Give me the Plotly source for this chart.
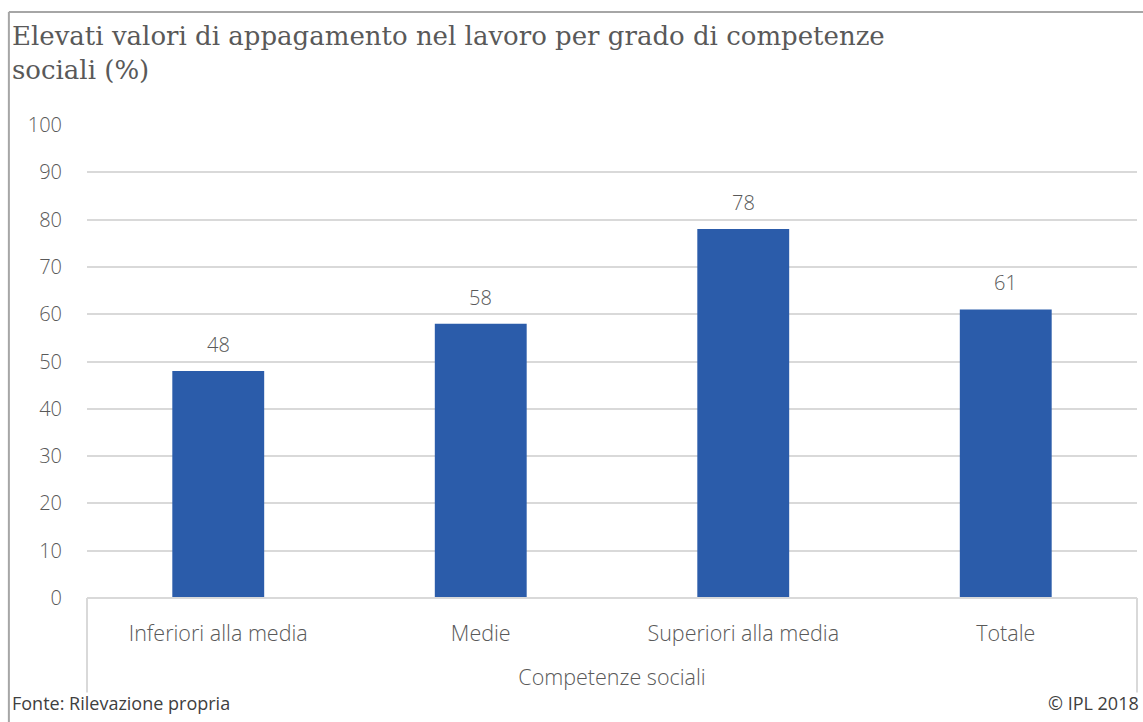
import plotly.graph_objects as go

categories = ["Inferiori alla media", "Medie", "Superiori alla media", "Totale"]
values = [48, 58, 78, 61]
y_ticks = [0, 10, 20, 30, 40, 50, 60, 70, 80, 90, 100]

title_text = "Elevati valori di appagamento nel lavoro per grado di competenze<br>sociali (%)"
x_title = "Competenze sociali"
source_text = "Fonte: Rilevazione propria"
copyright_text = "© IPL 2018"

BAR = "#2b5caa"
TXT = "#595959"
GRID = "#d9d9d9"
FRAME = "#a6a6a6"
SANS = "Open Sans"
LABEL_FONT = dict(family=SANS, size=20, color=TXT, weight=300)
CAT_FONT = dict(family=SANS, size=21.5, color=TXT, weight=300)

fig = go.Figure(
    go.Bar(
        x=categories,
        y=values,
        marker=dict(color=BAR, line=dict(width=0)),
        width=0.35,
        cliponaxis=False,
        hoverinfo="x+y",
    )
)

# value labels above each bar
value_labels = [
    dict(x=c, y=v, text=str(v), xref="x", yref="y", showarrow=False,
         xanchor="center", yanchor="bottom", yshift=11, font=LABEL_FONT)
    for c, v in zip(categories, values)
]

fig.update_layout(
    width=1143,
    height=722,
    margin=dict(l=87, r=6, t=125, b=124),
    paper_bgcolor="white",
    plot_bgcolor="white",
    showlegend=False,
    xaxis=dict(
        range=[-0.5, 3.5],
        showgrid=False,
        showline=False,
        ticks="",
        ticklabelstandoff=20,
        tickfont=CAT_FONT,
        title=dict(text=x_title, font=CAT_FONT, standoff=24),
    ),
    yaxis=dict(
        range=[0, 100],
        tickvals=y_ticks,
        showgrid=True,
        gridcolor=GRID,
        gridwidth=1.5,
        zeroline=False,
        showline=False,
        ticks="",
        ticklabelstandoff=24,
        tickfont=LABEL_FONT,
    ),
    shapes=[
        # outer frame: top and left edges
        dict(type="line", xref="paper", yref="paper", x0=-0.0744, x1=1.01, y0=1.239, y1=1.239,
             line=dict(color=FRAME, width=2)),
        dict(type="line", xref="paper", yref="paper", x0=-0.0744, x1=-0.0744, y0=1.239, y1=-0.27,
             line=dict(color=FRAME, width=2)),
        # category axis box
        dict(type="line", xref="paper", yref="paper", x0=0, x1=1, y0=0, y1=0,
             line=dict(color=GRID, width=2)),
        dict(type="line", xref="paper", yref="paper", x0=0, x1=0, y0=0, y1=-0.2,
             line=dict(color=GRID, width=2)),
        dict(type="line", xref="paper", yref="paper", x0=1, x1=1, y0=0, y1=-0.2,
             line=dict(color=GRID, width=2)),
    ],
    annotations=value_labels + [
        dict(text=title_text, xref="paper", yref="paper", x=-0.073, y=1.225,
             xanchor="left", yanchor="top", align="left", showarrow=False,
             font=dict(family="DejaVu Serif", size=26, color=TXT)),
        dict(text=source_text, xref="paper", yref="paper", x=-0.073, y=-0.222,
             xanchor="left", yanchor="middle", showarrow=False,
             font=dict(family=SANS, size=18, color="#404040")),
        dict(text=copyright_text, xref="paper", yref="paper", x=1.004, y=-0.222,
             xanchor="right", yanchor="middle", showarrow=False,
             font=dict(family=SANS, size=18, color="#404040")),
    ],
)

fig.write_html("out.html")
